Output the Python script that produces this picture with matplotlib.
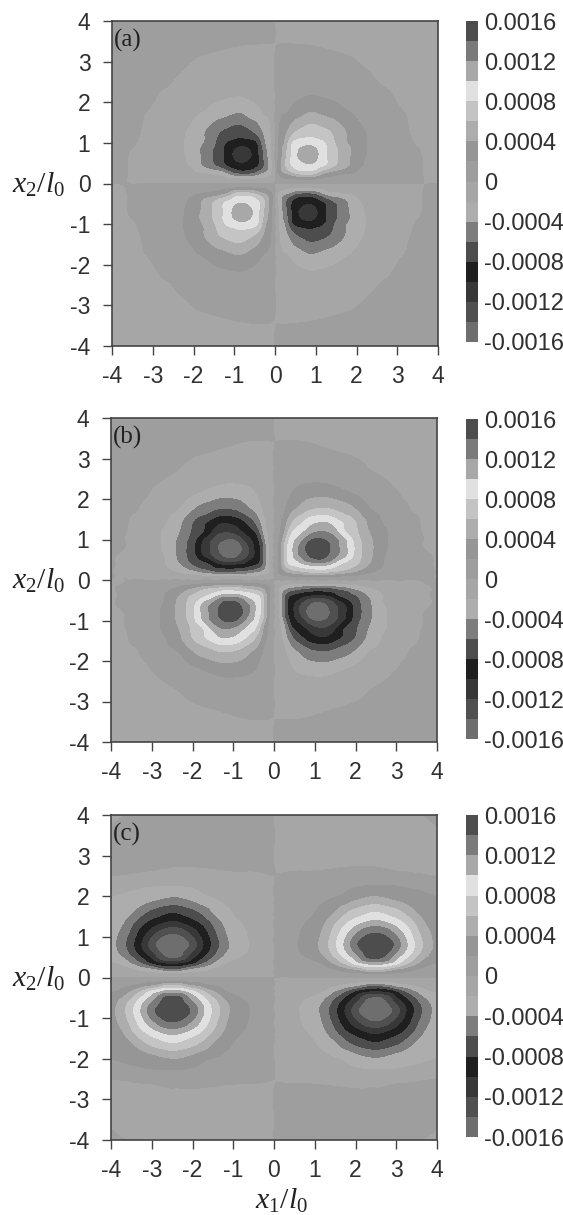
"""
Three contour panels (a, b, c), gray bands, one colorbar each
"""
import numpy as np
import matplotlib
matplotlib.use("Agg")
from matplotlib import pyplot as plt
from matplotlib.colors import ListedColormap, BoundaryNorm
from matplotlib.tri import Triangulation, UniformTriRefiner

plt.rcParams['font.family'] = ['Liberation Sans', 'DejaVu Sans']
plt.rcParams['mathtext.fontset'] = 'custom'
plt.rcParams['mathtext.rm'] = 'Liberation Serif'
plt.rcParams['mathtext.it'] = 'Liberation Serif:italic'
plt.rcParams['axes.unicode_minus'] = False

# levels and band grays, bottom band first
levels = [-16, -14, -12, -10, -8, -6, -4, -2, 0, 2, 4, 6, 8, 10, 12, 14, 16]
band_colors = ['#6e6e6e', '#505050', '#383838', '#1f1f1f', '#4d4d4d', '#7d7d7d', '#adadad', '#a6a6a6',
               '#9e9e9e', '#969696', '#adadad', '#c4c4c4', '#e0e0e0', '#a8a8a8', '#7a7a7a', '#4d4d4d']
bar_ticks = [-16, -12, -8, -4, 0, 4, 8, 12, 16]
bar_labels = ['-0.0016', '-0.0012', '-0.0008', '-0.0004', '0', '0.0004', '0.0008', '0.0012', '0.0016']
axis_ticks = [-4, -3, -2, -1, 0, 1, 2, 3, 4]

xa = [0, .1, .25, .4, .6, .8, 1, 1.25, 1.5, 1.75, 2, 2.3, 2.7, 3.2, 3.6, 4]
ya = [0, .1, .25, .4, .6, .8, 1, 1.25, 1.5, 1.75, 2, 2.3, 2.7, 3.2, 3.6, 4]
za = [
    [0]*16,
    [0, .8, 1.5, 1.7, 1.8, 1.8, 1.7, 1.4, 1.1, .9, .7, .5, .3, .1, .02, -.2],
    [0, 2.4, 3.8, 5, 6.4, 6.6, 6, 3.6, 2.6, 2.1, 1.7, 1.2, .7, .3, .02, -.4],
    [0, 2.8, 5.6, 7.6, 8.8, 9.2, 8.6, 7, 5.3, 4, 2.4, 1.6, 1, .4, .02, -.5],
    [0, 2.6, 5.6, 8.2, 10, 11, 10.2, 8.2, 6.2, 4.4, 2.9, 1.7, 1, .4, .02, -.5],
    [0, 2.5, 5.2, 8, 10.2, 11.5, 10.4, 8.2, 6.3, 4.6, 3.1, 1.8, 1, .2, -.02, -.5],
    [0, 2.4, 4.4, 7.5, 8.9, 9.2, 8.8, 7.8, 5.7, 4.1, 3, 1.8, 1, .15, -.08, -.5],
    [0, 2, 3.6, 5.2, 6.6, 7.3, 7.1, 6.5, 5.3, 3.95, 2.9, 1.7, .9, .1, -.15, -.5],
    [0, 1.8, 2.7, 3.8, 4.7, 5.5, 5.6, 5, 4.2, 3.1, 2.2, 1.3, .7, .05, -.2, -.6],
    [0, 1.4, 1.9, 2.5, 3.3, 3.9, 3.9, 3.4, 2.9, 2.2, 1.7, 1, .5, -.03, -.25, -.6],
    [0, 1, 1.5, 1.8, 2.2, 2.6, 2.7, 2.4, 1.95, 1.3, .9, .6, .3, -.2, -.3, -.7],
    [0, .6, 1, 1.2, 1.4, 1.5, 1.4, 1.1, .9, .7, .5, .3, .05, -.3, -.5, -.7],
    [0, .3, .5, .6, .7, .75, .7, .55, .4, .3, .15, .03, -.2, -.4, -.5, -.7],
    [0, .1, .2, .25, .3, .3, .25, .15, .05, -.03, -.1, -.2, -.3, -.45, -.55, -.7],
    [0, -.05, -.1, -.15, -.2, -.25, -.3, -.35, -.4, -.4, -.45, -.5, -.5, -.55, -.6, -.7],
    [0, -.1, -.2, -.25, -.3, -.35, -.4, -.4, -.45, -.5, -.5, -.55, -.6, -.65, -.7, -.7],
]

xb = [0, .1, .25, .4, .6, .8, 1.05, 1.3, 1.55, 1.8, 2.05, 2.3, 2.6, 2.9, 3.2, 3.6, 4]
yb = [0, .1, .2, .3, .45, .6, .8, 1, 1.2, 1.4, 1.6, 1.8, 2.05, 2.4, 2.8, 3.2, 3.6, 4]
zb = [
    [0]*17,
    [0, 1, 1.8, 2.1, 2.3, 2.4, 2.5, 2.4, 2.2, 2, 1.6, 1.3, .9, .6, .4, .1, -.05],
    [0, 1.8, 3.4, 4.4, 5.2, 6, 6.4, 6.2, 5.6, 4.6, 3.4, 2.4, 1.6, 1.1, .7, .3, -.05],
    [0, 1.9, 4.8, 6.6, 7.6, 8.2, 8.7, 8.4, 7.4, 6.4, 5, 3.4, 2.1, 1.4, .9, .3, -.08],
    [0, 1.9, 6, 8.6, 9.8, 11.6, 12.6, 12, 9.6, 7.8, 6.3, 4.5, 2.4, 1.5, 1, .3, -.08],
    [0, 1.7, 6, 9, 11.6, 13.6, 14.8, 14, 12, 9.6, 6.8, 4.9, 2.5, 1.6, 1, .3, -.1],
    [0, 1.6, 6, 9, 11.9, 14.2, 15.6, 14.6, 12.4, 9.9, 7, 4.9, 2.9, 1.6, 1, .1, -.1],
    [0, 1.4, 5, 8.4, 10.6, 12.8, 14.3, 13.7, 12, 9.4, 6.6, 4.7, 2.8, 1.6, .9, .08, -.15],
    [0, 1.3, 3.6, 7, 9, 10.4, 11.8, 11.8, 10, 7.5, 6, 4.2, 2.7, 1.6, .8, .03, -.2],
    [0, 1, 3, 5.4, 7.4, 8.9, 10, 10.1, 8.8, 7.4, 5.7, 3.8, 2.2, 1.3, .6, -.02, -.25],
    [0, .9, 2.1, 4.1, 5.6, 6.9, 7.8, 7.9, 6.9, 5.9, 4.6, 3.1, 1.9, 1, .25, -.06, -.3],
    [0, .8, 1.7, 2.9, 4, 5, 5.6, 5.7, 5.2, 4.5, 3.4, 2.1, 1.2, .6, .1, -.15, -.35],
    [0, .6, 1.3, 2.1, 3, 3.6, 3.9, 3.9, 3.4, 2.8, 2.1, 1.4, .7, .25, -.05, -.2, -.4],
    [0, .4, .9, 1.3, 1.7, 1.9, 2, 1.9, 1.6, 1.2, .8, .5, .2, -.05, -.2, -.35, -.45],
    [0, .25, .4, .6, .8, .95, 1, .9, .7, .4, .2, -.02, -.15, -.25, -.35, -.45, -.5],
    [0, .1, .2, .25, .3, .3, .2, .08, -.05, -.12, -.2, -.25, -.3, -.35, -.4, -.5, -.55],
    [0, -.05, -.1, -.12, -.15, -.2, -.25, -.3, -.3, -.35, -.35, -.4, -.4, -.45, -.5, -.55, -.6],
    [0, -.1, -.15, -.2, -.25, -.3, -.3, -.35, -.4, -.4, -.45, -.45, -.5, -.5, -.55, -.6, -.6],
]

xc = [0, .5, 1, 1.25, 1.5, 1.75, 2, 2.25, 2.5, 2.75, 3, 3.25, 3.5, 3.75, 4]
yc = [0, .1, .2, .3, .45, .6, .8, 1, 1.2, 1.4, 1.6, 1.8, 2, 2.25, 2.5, 2.75, 3.25, 3.75, 4]
zc = [
    [0]*15,
    [0, .3, .6, .8, 1, 1.3, 1.7, 2, 2.1, 2, 1.7, 1.3, 1, .8, .6],
    [0, .6, 1.1, 1.5, 1.95, 3, 3.9, 5.5, 6, 5.4, 3.8, 2.9, 1.9, 1.5, 1.2],
    [0, .9, 1.5, 2, 3.5, 5.2, 7.2, 8.7, 9.2, 8.6, 7.1, 5.1, 3.4, 2.1, 1.7],
    [0, 1.2, 2.2, 3.5, 5.5, 7.8, 10.3, 13, 13.7, 12.8, 10.1, 7.6, 5.3, 3.4, 2.4],
    [0, 1.5, 3.1, 4.6, 6.9, 9.4, 12, 14.3, 14.9, 14.2, 11.8, 9.2, 6.7, 4.5, 3],
    [0, 1.7, 3.5, 5.2, 7.6, 10.4, 13.4, 15.2, 15.7, 15.1, 13.2, 10.2, 7.4, 5, 3.3],
    [0, 1.6, 3.3, 4.9, 7.3, 9.8, 12.4, 14.2, 14.9, 14.1, 12.2, 9.6, 7, 4.8, 3.1],
    [0, 1.5, 3, 4.4, 6.5, 8.7, 10.6, 12.2, 12.7, 12.1, 10.4, 8.5, 6.2, 4.2, 2.8],
    [0, 1.2, 2.5, 3.7, 5.4, 7.2, 8.5, 9.5, 10.1, 9.4, 8.4, 7, 5.2, 3.5, 2.5],
    [0, .9, 2, 2.9, 4, 5.6, 6.8, 7.6, 8, 7.5, 6.7, 5.4, 3.9, 3, 2.6],
    [0, .7, 1.6, 2.2, 3.1, 3.9, 4.9, 5.6, 5.9, 5.5, 4.8, 3.9, 3.2, 2.8, 2.4],
    [0, .4, 1.1, 1.5, 1.9, 2.4, 3.1, 3.7, 3.9, 3.6, 3.1, 2.8, 2.5, 2.2, 1.95],
    [0, .25, .7, 1, 1.2, 1.5, 1.85, 2.05, 2.1, 2.1, 2, 1.8, 1.6, 1.4, 1.2],
    [0, .15, .3, .4, .5, .55, .6, .6, .6, .55, .5, .4, .25, .1, -.02],
    [0, -.2, -.25, -.2, -.12, -.06, -.02, -.02, -.03, -.08, -.2, -.25, -.3, -.3, -.3],
    [0, -.4, -.4, -.4, -.4, -.4, -.4, -.4, -.4, -.4, -.4, -.4, -.4, -.35, -.3],
    [0, -.4, -.4, -.4, -.4, -.4, -.4, -.4, -.4, -.4, -.35, -.3, -.25, -.2, .02],
    [0, -.4, -.4, -.4, -.4, -.4, -.4, -.4, -.4, -.4, -.35, -.3, -.1, .1, .5],
]

W, H = 563, 1215


def full_field(xs, ys, z):
    # other quadrants are the same lobes with the sign flipped
    xs, ys, z = np.array(xs), np.array(ys), np.array(z, dtype=float)
    right = np.vstack([-z[:0:-1], z])
    whole = np.hstack([-right[:, :0:-1], right])
    return np.r_[-xs[:0:-1], xs], np.r_[-ys[:0:-1], ys], whole


def px_axes(fig, x0, y0, x1, y1):
    return fig.add_axes([x0/W, 1 - y1/H, (x1 - x0)/W, (y1 - y0)/H])


cmap = ListedColormap(band_colors)
txt = '#303030'

fig = plt.figure(figsize=(W/100, H/100), dpi=100)

panels = [
    ('(a)', xa, ya, za, (112, 21, 438, 346), (466, 21, 478, 342)),
    ('(b)', xb, yb, zb, (111, 418, 437, 742), (466, 419, 478, 739)),
    ('(c)', xc, yc, zc, (111, 815, 437, 1140), (466, 815, 478, 1137)),
]

for tag, xs, ys, z, box, barbox in panels:
    ax = px_axes(fig, *box)
    X, Y, Z = full_field(xs, ys, z)
    gx, gy = np.meshgrid(X, Y)
    # smooth band edges on the coarse reading grid
    tri = Triangulation(gx.ravel(), gy.ravel())
    fine_tri, fine_z = UniformTriRefiner(tri).refine_field(Z.ravel(), subdiv=3)
    cs = ax.tricontourf(fine_tri, fine_z, levels=levels, cmap=cmap,
                        norm=BoundaryNorm(levels, cmap.N))
    ax.set_xlim(-4, 4)
    ax.set_ylim(-4, 4)
    ax.set_xticks(axis_ticks)
    ax.set_yticks(axis_ticks)
    ax.tick_params(length=6.5, width=1, color='#444444', labelsize=16.5, labelcolor=txt, pad=9)
    ax.tick_params(axis='x', pad=7)
    for s in ax.spines.values():
        s.set_color('#444444')
        s.set_linewidth(1.2)
    ax.text(0.005, 0.975, tag, transform=ax.transAxes, ha='left', va='top',
            family='Liberation Serif', fontsize=18, color='#222222')
    fig.text(38/W, 1 - ((box[1] + box[3])/2 + 1)/H, r'$x_2/l_0$', ha='center', va='center',
             fontsize=21.5, color='#222222')

    cax = px_axes(fig, *barbox)
    cb = fig.colorbar(cs, cax=cax, spacing='uniform')
    cb.set_ticks(bar_ticks, labels=bar_labels)
    cb.minorticks_off()
    cb.ax.tick_params(which='both', length=0, labelsize=17, labelcolor=txt, pad=4.5)
    cb.outline.set_visible(False)

fig.text(281/W, 1 - 1201/H, r'$x_1/l_0$', ha='center', va='center', fontsize=21.5, color='#222222')

fig.savefig('out.png', dpi=100)
